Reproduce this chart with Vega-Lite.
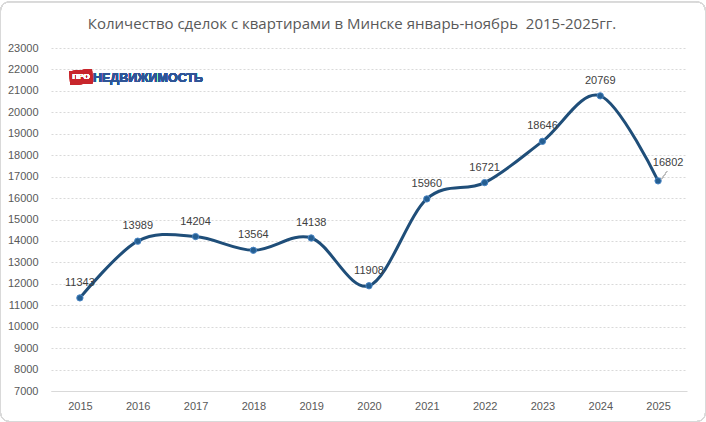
{
  "$schema": "https://vega.github.io/schema/vega-lite/v6.json",
  "width": 636,
  "height": 343,
  "autosize": {"type": "none"},
  "padding": {"left": 51, "top": 48, "right": 19, "bottom": 31},
  "background": "white",
  "title": {
    "text": "Количество сделок с квартирами в Минске январь-ноябрь\u00a0 2015-2025гг.",
    "font": "Open Sans",
    "fontSize": 15,
    "fontWeight": "normal",
    "color": "#595959",
    "anchor": "middle",
    "frame": "group",
    "baseline": "alphabetic",
    "dx": -17,
    "dy": 43,
    "offset": 0
  },
  "config": {
    "view": {"stroke": null},
    "axis": {"labelFont": "Liberation Sans", "labelFontSize": 11, "labelColor": "#595959", "ticks": false, "title": null}
  },
  "data": {
    "values": [
      {"year": 2015, "value": 11343},
      {"year": 2016, "value": 13989},
      {"year": 2017, "value": 14204},
      {"year": 2018, "value": 13564},
      {"year": 2019, "value": 14138},
      {"year": 2020, "value": 11908},
      {"year": 2021, "value": 15960},
      {"year": 2022, "value": 16721},
      {"year": 2023, "value": 18646},
      {"year": 2024, "value": 20769},
      {"year": 2025, "value": 16802}
    ]
  },
  "encoding": {
    "x": {
      "field": "year",
      "type": "quantitative",
      "scale": {"domain": [2014.5, 2025.5], "nice": false, "zero": false},
      "axis": {
        "values": [2015, 2016, 2017, 2018, 2019, 2020, 2021, 2022, 2023, 2024, 2025],
        "format": "d",
        "grid": false,
        "domainColor": "#d9d9d9",
        "labelPadding": 9
      }
    },
    "y": {
      "field": "value",
      "type": "quantitative",
      "scale": {"domain": [7000, 23000], "nice": false, "zero": false},
      "axis": {
        "values": [7000, 8000, 9000, 10000, 11000, 12000, 13000, 14000, 15000, 16000, 17000, 18000, 19000, 20000, 21000, 22000, 23000],
        "format": "d",
        "domain": false,
        "gridColor": "#d9d9d9",
        "gridDash": [2, 2],
        "labelPadding": 13
      }
    }
  },
  "layer": [
    {
      "mark": {"type": "rect", "fill": "transparent", "stroke": "#d9d9d9", "strokeWidth": 1, "cornerRadius": 9},
      "encoding": {
        "x": {"datum": 2013.627, "type": "quantitative"},
        "x2": {"datum": 2025.82},
        "y": {"datum": 25150, "type": "quantitative"},
        "y2": {"datum": 5577}
      }
    },
    {
      "mark": {"type": "line", "interpolate": "cardinal", "tension": 0, "color": "#1f4e79", "strokeWidth": 3}
    },
    {
      "mark": {"type": "point", "filled": true, "size": 40, "fill": "#255e91", "stroke": "#4a86c5", "strokeWidth": 1, "opacity": 1}
    },
    {
      "transform": [{"filter": "datum.year < 2025"}],
      "mark": {"type": "text", "dy": -15, "font": "Liberation Sans", "fontSize": 11, "color": "#404040"},
      "encoding": {"text": {"field": "value", "type": "quantitative", "format": "d"}}
    },
    {
      "transform": [{"filter": "datum.year == 2025"}],
      "mark": {"type": "text", "dx": 10, "dy": -18, "font": "Liberation Sans", "fontSize": 11, "color": "#404040"},
      "encoding": {"text": {"field": "value", "type": "quantitative", "format": "d"}}
    },
    {
      "mark": {"type": "rule", "color": "#bfbfbf", "strokeWidth": 1},
      "encoding": {
        "x": {"datum": 2025.06, "type": "quantitative"},
        "x2": {"datum": 2025.15},
        "y": {"datum": 16880, "type": "quantitative"},
        "y2": {"datum": 17230}
      }
    },
    {
      "mark": {"type": "point", "shape": "M -1 -0.5 L 0.95 -0.7 L 1 0.55 L -0.95 0.7 Z", "filled": true, "size": 529, "fill": "#c8262c", "opacity": 1},
      "encoding": {
        "x": {"datum": 2015.02, "type": "quantitative"},
        "y": {"datum": 21647, "type": "quantitative"}
      }
    },
    {
      "mark": {"type": "text", "text": "ПРО", "font": "Liberation Sans", "fontSize": 8, "fontWeight": "bold", "color": "white", "baseline": "middle", "align": "center"},
      "encoding": {
        "x": {"datum": 2015.02, "type": "quantitative"},
        "y": {"datum": 21647, "type": "quantitative"}
      }
    },
    {
      "mark": {"type": "text", "text": "НЕДВИЖИМОСТЬ", "font": "Liberation Sans", "fontSize": 12.5, "fontWeight": "bold", "color": "#2f5597", "baseline": "middle", "align": "left"},
      "encoding": {
        "x": {"datum": 2015.226, "type": "quantitative"},
        "y": {"datum": 21600, "type": "quantitative"}
      }
    }
  ]
}
